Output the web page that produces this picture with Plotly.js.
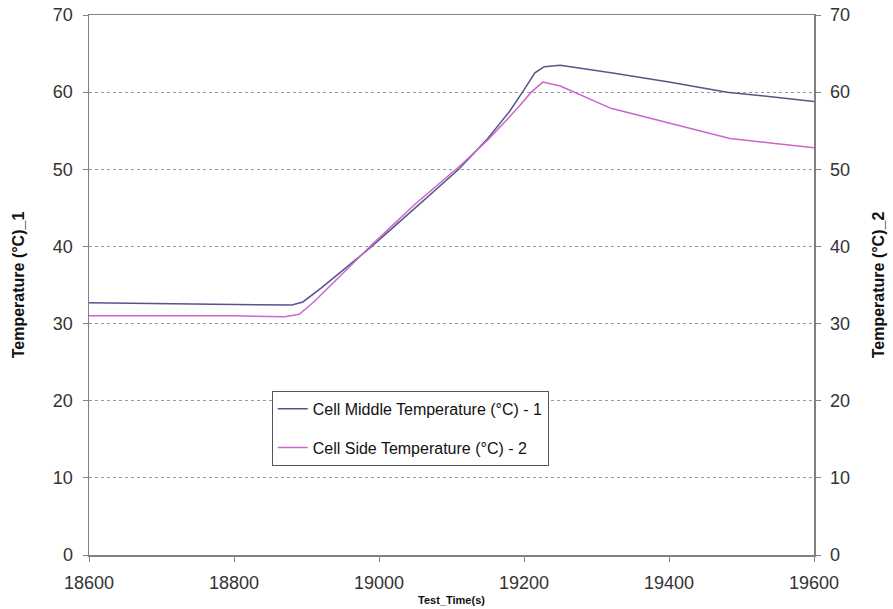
<!DOCTYPE html>
<html>
<head>
<meta charset="utf-8">
<script src="https://cdn.plot.ly/plotly-3.0.1.min.js"></script>
<style>
html,body{margin:0;padding:0;background:#fff;}
#chart{width:893px;height:609px;}
</style>
</head>
<body>
<div id="chart"></div>
<script>
// Series 1: Cell Middle Temperature
var timeMiddle = [18600, 18700, 18800, 18880, 18895, 18920, 18950, 18990, 19050, 19110, 19150, 19180, 19200, 19215, 19228, 19250, 19320, 19400, 19480, 19540, 19600];
var tempMiddle = [32.7, 32.6, 32.5, 32.4, 32.8, 34.6, 36.9, 40.0, 45.0, 50.0, 54.0, 57.5, 60.3, 62.5, 63.3, 63.5, 62.5, 61.3, 60.0, 59.4, 58.8];
// Series 2: Cell Side Temperature
var timeSide = [18600, 18700, 18800, 18870, 18890, 18910, 18950, 18990, 19050, 19110, 19150, 19190, 19210, 19226, 19250, 19320, 19400, 19484, 19540, 19600];
var tempSide = [31.0, 31.0, 31.0, 30.9, 31.2, 32.8, 36.5, 40.2, 45.5, 50.3, 53.8, 57.8, 60.0, 61.3, 60.8, 57.9, 56.0, 54.0, 53.4, 52.8];

var names = ["Cell Middle Temperature (\u00B0C) - 1", "Cell Side Temperature (\u00B0C) - 2"];
var xTicks = [18600, 18800, 19000, 19200, 19400, 19600];
var yTicks = [0, 10, 20, 30, 40, 50, 60, 70];

var tickFont = {family: "Liberation Sans, Arial, sans-serif", size: 18, color: "#333"};
var titleFont = {family: "Liberation Sans, Arial, sans-serif", size: 16, color: "#111", weight: "bold"};

var traces = [
  {x: timeMiddle, y: tempMiddle, name: names[0], type: "scatter", mode: "lines",
   line: {color: "#55558C", width: 1.5}, legendgroup: "a", yaxis: "y"},
  {x: timeSide, y: tempSide, name: names[1], type: "scatter", mode: "lines",
   line: {color: "#CC66CC", width: 1.5}, legendgroup: "b", yaxis: "y2"}
];

var layout = {
  width: 893, height: 609,
  margin: {l: 89, r: 79, t: 15, b: 54},
  paper_bgcolor: "#fff", plot_bgcolor: "#fff",
  font: {family: "Liberation Sans, Arial, sans-serif"},
  showlegend: true,
  legend: {x: 0.252, y: 0.304, xanchor: "left", yanchor: "top",
    bgcolor: "#fff", bordercolor: "#555", borderwidth: 1,
    font: {family: "Liberation Sans, Arial, sans-serif", size: 16, color: "#111"},
    traceorder: "grouped", tracegroupgap: 15},
  xaxis: {range: [18600, 19600], tickvals: xTicks, ticktext: xTicks.map(String),
    showgrid: false, zeroline: false, showline: true, linecolor: "#808080", linewidth: 1.5,
    mirror: true, ticks: "outside", ticklen: 5, tickcolor: "#808080",
    tickfont: tickFont, ticklabelstandoff: 6,
    title: {text: "Test_Time(s)", font: {family: "Liberation Sans, Arial, sans-serif", size: 11, color: "#111", weight: "bold"}, standoff: 4}},
  yaxis: {range: [0, 70], tickvals: yTicks, showgrid: true, gridcolor: "#999", griddash: "dot",
    gridwidth: 1, zeroline: false, showline: true, linecolor: "#808080", linewidth: 1.5,
    ticks: "outside", ticklen: 5, tickcolor: "#808080", tickfont: tickFont, ticklabelstandoff: 6,
    title: {text: "Temperature (\u00B0C)_1", font: titleFont, standoff: 24}},
  yaxis2: {range: [0, 70], tickvals: yTicks, overlaying: "y", side: "right", showgrid: false,
    zeroline: false, showline: true, linecolor: "#808080", linewidth: 1.5,
    ticks: "outside", ticklen: 5, tickcolor: "#808080", tickfont: tickFont, ticklabelstandoff: 6,
    title: {text: "Temperature (\u00B0C)_2", font: titleFont, standoff: 23}}
};

Plotly.newPlot("chart", traces, layout, {displayModeBar: false, staticPlot: true});
</script>
</body>
</html>
